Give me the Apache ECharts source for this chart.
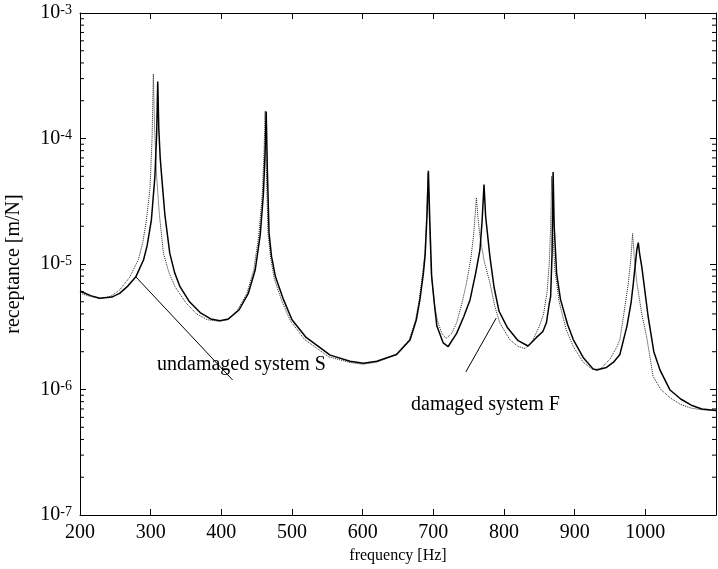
<!DOCTYPE html>
<html>
<head>
<meta charset="utf-8">
<script src="https://cdn.jsdelivr.net/npm/echarts@6/dist/echarts.min.js"></script>
<style>html,body{margin:0;padding:0;background:#fff;}#c{width:718px;height:569px;}</style>
</head>
<body>
<div id="c"></div>
<script>
// Undamaged system S (solid)
const freqS = [200,215,228,245,256,268,279,290,295,301,306,308.5,310,311.5,313.5,315.6,320,327,334,341.5,355,370,385,398,410,425,438,448,455,459.5,462,463.5,465,467.5,471,476.6,488,500,520,554,582,601,620,648,667,676,681,686,688.5,691,693,695,697.6,702,705,714,721,733,743,752,760,766,769,771.7,774,780,786,793,805,820,834,846,855,860,864,866,868,869.5,871,874.5,880,890,898,912,926,931,945,955,964,970,974,980,983,988,990,992,995,1004,1012,1021,1035,1050,1065,1080,1100];
const recS = [6.1e-6,5.6e-6,5.33e-6,5.45e-6,5.83e-6,6.7e-6,7.9e-6,1.08e-5,1.4e-5,2.24e-5,4.97e-5,1.1e-4,2.84e-4,1.2e-4,7.0e-5,4.97e-5,2.5e-5,1.22e-5,8.5e-6,6.6e-6,5.0e-6,4.1e-6,3.65e-6,3.53e-6,3.65e-6,4.3e-6,5.8e-6,9.0e-6,1.7e-5,3.6e-5,8.0e-5,1.64e-4,6.0e-5,1.77e-5,1.15e-5,7.9e-6,5.2e-6,3.6e-6,2.6e-6,1.88e-6,1.68e-6,1.62e-6,1.68e-6,1.9e-6,2.48e-6,3.6e-6,5.2e-6,8.5e-6,1.2e-5,2.4e-5,5.54e-5,2.2e-5,8.0e-6,4.5e-6,3.2e-6,2.35e-6,2.2e-6,2.8e-6,3.8e-6,5.2e-6,8.5e-6,1.3e-5,2.2e-5,4.3e-5,2.4e-5,1.15e-5,6.5e-6,4.2e-6,3.1e-6,2.45e-6,2.22e-6,2.6e-6,2.9e-6,3.4e-6,4.8e-6,5.5e-6,1.2e-5,5.4e-5,2.0e-5,8.4e-6,5.2e-6,3.3e-6,2.5e-6,1.8e-6,1.46e-6,1.43e-6,1.5e-6,1.65e-6,1.9e-6,2.6e-6,3.2e-6,5.0e-6,7.0e-6,1.3e-5,1.48e-5,1.2e-5,9.5e-6,3.8e-6,2.0e-6,1.42e-6,9.9e-7,8.4e-7,7.5e-7,7.0e-7,6.8e-7];
// Damaged system F (dotted)
const freqF = [200,215,228,243,256,270,282.5,289,294,299,302,303.8,305.5,308.5,312,318,326,334.4,350,365,380,396,410,423,436,446,453,458,460.5,462,463.5,466,470,475,486,498,518,552,582,600,620,647,666,675,680,685,688,690.5,692.5,694.5,697,701,706,712,718,726,733,741,747,753,757,761,763,766,772,780,787,794,808,820,830,840,850,856,861,864,866,867.5,869,872,878,888,898,912,925,936,950,960,964,969,976,979.5,982,984.5,988,995,1002,1011,1022,1035,1050,1065,1080,1100];
const recF = [5.85e-6,5.5e-6,5.3e-6,5.5e-6,6.2e-6,7.8e-6,1.08e-5,1.5e-5,2.24e-5,4.0e-5,1.0e-4,3.27e-4,1.2e-4,4.97e-5,2.6e-5,1.22e-5,8.5e-6,6.6e-6,4.9e-6,4.0e-6,3.6e-6,3.5e-6,3.6e-6,4.3e-6,5.8e-6,9.0e-6,1.7e-5,3.6e-5,8.0e-5,1.65e-4,6.0e-5,1.77e-5,1.1e-5,7.6e-6,5.0e-6,3.5e-6,2.5e-6,1.82e-6,1.64e-6,1.59e-6,1.65e-6,1.9e-6,2.5e-6,3.6e-6,5.2e-6,8.5e-6,1.2e-5,2.4e-5,5.3e-5,2.2e-5,8.5e-6,5.0e-6,3.5e-6,2.8e-6,2.55e-6,2.8e-6,3.4e-6,5.0e-6,7.1e-6,1.1e-5,1.7e-5,3.38e-5,2.4e-5,1.66e-5,1.05e-5,7.1e-6,4.6e-6,3.4e-6,2.5e-6,2.2e-6,2.12e-6,2.4e-6,3.2e-6,4.0e-6,6.0e-6,1.0e-5,2.0e-5,5.0e-5,1.8e-5,9.0e-6,5.0e-6,3.0e-6,2.2e-6,1.65e-6,1.45e-6,1.45e-6,1.75e-6,2.2e-6,2.5e-6,3.8e-6,7.1e-6,1.1e-5,1.75e-5,1.1e-5,7.1e-6,4.0e-6,2.6e-6,1.27e-6,1.0e-6,8.6e-7,7.6e-7,7.1e-7,6.9e-7,6.8e-7];

const xTicks = [200,300,400,500,600,700,800,900,1000];
const yMinorTicks = [];
[1e-7,1e-6,1e-5,1e-4].forEach(d => { for (let k = 2; k <= 9; k++) yMinorTicks.push(k * d); });

// annotation leader lines [freq, value]
const leaderS = [[279, 7.9e-6], [416, 1.19e-6]];
const leaderF = [[789, 3.71e-6], [746, 1.38e-6]];

const FF = "'Liberation Serif','Times New Roman',serif";
const zip = (a, b) => a.map((v, i) => [v, b[i]]);

const chart = echarts.init(document.getElementById('c'), null, {renderer: 'canvas'});
const yLabel = {
  margin: 8,
  formatter: v => '{b|10}{e|' + Math.round(Math.log10(v)) + '}',
  rich: {
    b: {fontSize: 20, fontFamily: FF, color: '#000', verticalAlign: 'bottom', lineHeight: 20},
    e: {fontSize: 14, fontFamily: FF, color: '#000', verticalAlign: 'top', lineHeight: 14, padding: [0, 0, 14, 0]}
  }
};
chart.setOption({
  animation: false,
  backgroundColor: '#fff',
  grid: {left: 80, right: 2, top: 13, bottom: 54, containLabel: false, outerBoundsMode: 'none'},
  xAxis: [{
    type: 'value', min: 200, max: 1100, interval: 100, position: 'bottom',
    name: 'frequency [Hz]', nameLocation: 'middle', nameGap: 31,
    nameTextStyle: {fontSize: 16, fontFamily: FF, color: '#000'},
    axisLine: {lineStyle: {color: '#000', width: 1}},
    axisTick: {show: true, inside: true, length: 6, lineStyle: {color: '#000', width: 1}},
    axisLabel: {fontSize: 20, fontFamily: FF, color: '#000', margin: 8,
      formatter: v => xTicks.indexOf(v) >= 0 ? String(v) : ''},
    splitLine: {show: false}
  }, {
    type: 'value', min: 200, max: 1100, interval: 100, position: 'top',
    axisLine: {lineStyle: {color: '#000', width: 1}},
    axisTick: {show: true, inside: true, length: 6, lineStyle: {color: '#000', width: 1}},
    axisLabel: {show: false}, splitLine: {show: false}
  }],
  yAxis: [{
    type: 'log', logBase: 10, min: 1e-7, max: 1e-3, position: 'left',
    name: 'receptance [m/N]', nameLocation: 'middle', nameGap: 56,
    nameTextStyle: {fontSize: 20, fontFamily: FF, color: '#000'},
    axisLine: {lineStyle: {color: '#000', width: 1}},
    axisTick: {show: true, inside: true, length: 6, lineStyle: {color: '#000', width: 1}},
    axisLabel: yLabel, splitLine: {show: false}
  }, {
    type: 'log', logBase: 10, min: 1e-7, max: 1e-3, position: 'right',
    axisLine: {lineStyle: {color: '#000', width: 1}},
    axisTick: {show: true, inside: true, length: 6, lineStyle: {color: '#000', width: 1}},
    axisLabel: {show: false}, splitLine: {show: false}
  }],
  series: [{
    name: 'damaged system F', type: 'line', data: zip(freqF, recF),
    showSymbol: false, symbol: 'none', smooth: false,
    lineStyle: {color: '#222', width: 1, type: [1, 1]}, z: 2
  }, {
    name: 'undamaged system S', type: 'line', data: zip(freqS, recS),
    showSymbol: false, symbol: 'none', smooth: false,
    lineStyle: {color: '#000', width: 1.5}, z: 3,
    markLine: {
      silent: true, symbol: 'none', animation: false,
      label: {show: false}, lineStyle: {color: '#000', width: 1, type: 'solid'},
      data: [
        [{coord: leaderS[0]}, {coord: leaderS[1]}],
        [{coord: leaderF[0]}, {coord: leaderF[1]}]
      ]
    }
  }]
});

// annotation texts and minor log ticks (2..9 per decade) on left and right axes, placed through the axis scale
const g = [
  {type: 'text', left: 157, top: 355, style: {text: 'undamaged system S', font: '20px ' + FF, fill: '#000'}},
  {type: 'text', left: 411, top: 395, style: {text: 'damaged system F', font: '20px ' + FF, fill: '#000'}}
];
yMinorTicks.forEach(v => {
  const l = chart.convertToPixel({gridIndex: 0}, [200, v]);
  const r = chart.convertToPixel({gridIndex: 0}, [1100, v]);
  if (!l || !r) return;
  g.push({type: 'line', silent: true, z: 100, shape: {x1: l[0], y1: l[1], x2: l[0] + 4, y2: l[1]}, style: {stroke: '#000', lineWidth: 1}});
  g.push({type: 'line', silent: true, z: 100, shape: {x1: r[0], y1: r[1], x2: r[0] - 4, y2: r[1]}, style: {stroke: '#000', lineWidth: 1}});
});
chart.setOption({graphic: g});
</script>
</body>
</html>
